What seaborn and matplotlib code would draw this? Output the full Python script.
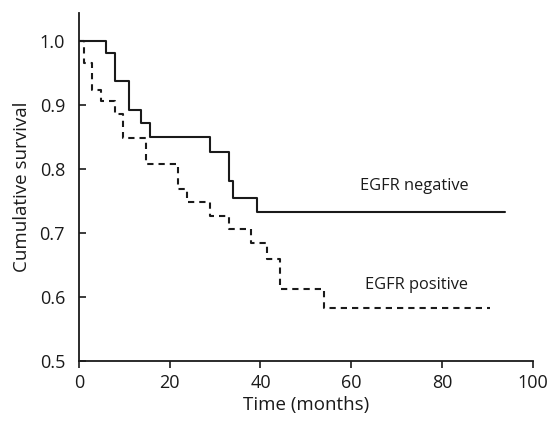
import matplotlib
matplotlib.use("Agg")
import matplotlib.pyplot as plt
import seaborn as sns
import pandas as pd

neg_time = [0, 6, 8, 11, 13.7, 15.6, 28.9, 33.1, 33.9, 39.2, 93.9]
neg_surv = [1.0, 0.981, 0.938, 0.892, 0.871, 0.850, 0.826, 0.781, 0.755, 0.733, 0.733]

pos_time = [0, 1.1, 2.8, 4.8, 7.9, 9.8, 14.8, 21.9, 23.7, 28.9, 33.0, 37.8, 41.4, 44.2, 53.9, 90.6]
pos_surv = [1.0, 0.965, 0.924, 0.906, 0.886, 0.848, 0.808, 0.769, 0.749, 0.727, 0.706, 0.684, 0.660, 0.613, 0.582, 0.582]

labels = ["EGFR negative", "EGFR positive"]
x_ticks = [0, 20, 40, 60, 80, 100]
y_ticks = [0.5, 0.6, 0.7, 0.8, 0.9, 1.0]

df = pd.concat([
    pd.DataFrame({"time": neg_time, "surv": neg_surv, "group": labels[0]}),
    pd.DataFrame({"time": pos_time, "surv": pos_surv, "group": labels[1]}),
])

sns.set_style("ticks")
plt.rcParams["font.family"] = ["Open Sans", "DejaVu Sans"]

fig = plt.figure(figsize=(5.51, 4.25), dpi=100)
ax = fig.add_axes([0.1434, 0.1506, 0.9668 - 0.1434, 0.9687 - 0.1506])

sns.lineplot(data=df, x="time", y="surv", style="group", hue="group",
             palette={labels[0]: "#1a1a1a", labels[1]: "#1a1a1a"},
             dashes={labels[0]: "", labels[1]: (3.0, 2.4)},
             drawstyle="steps-post", estimator=None, sort=False,
             linewidth=1.5, legend=False, ax=ax)

ax.set_xlim(0, 100)
ax.set_ylim(0.5, 1.043)
ax.set_xticks(x_ticks)
ax.set_yticks(y_ticks)
ax.set_yticklabels([f"{v:.1f}" for v in y_ticks])
ax.tick_params(axis="y", direction="in", length=5, width=1.2, labelsize=13, colors="#1a1a1a", pad=10)
ax.tick_params(axis="x", direction="out", length=5, width=1.2, labelsize=13, colors="#1a1a1a", pad=4.5)
for s in ["top", "right"]:
    ax.spines[s].set_visible(False)
for s in ["left", "bottom"]:
    ax.spines[s].set_linewidth(1.3)
    ax.spines[s].set_color("#1a1a1a")

ax.set_xlabel("Time (months)", fontsize=13.5, color="#1a1a1a", labelpad=3)
ax.set_ylabel("Cumulative survival", fontsize=13.5, color="#1a1a1a", labelpad=6)

ax.text(73.8, 0.774, labels[0], fontsize=11.8, ha="center", va="center", color="#1a1a1a")
ax.text(74.4, 0.619, labels[1], fontsize=11.8, ha="center", va="center", color="#1a1a1a")

fig.savefig("out.png", dpi=100)
